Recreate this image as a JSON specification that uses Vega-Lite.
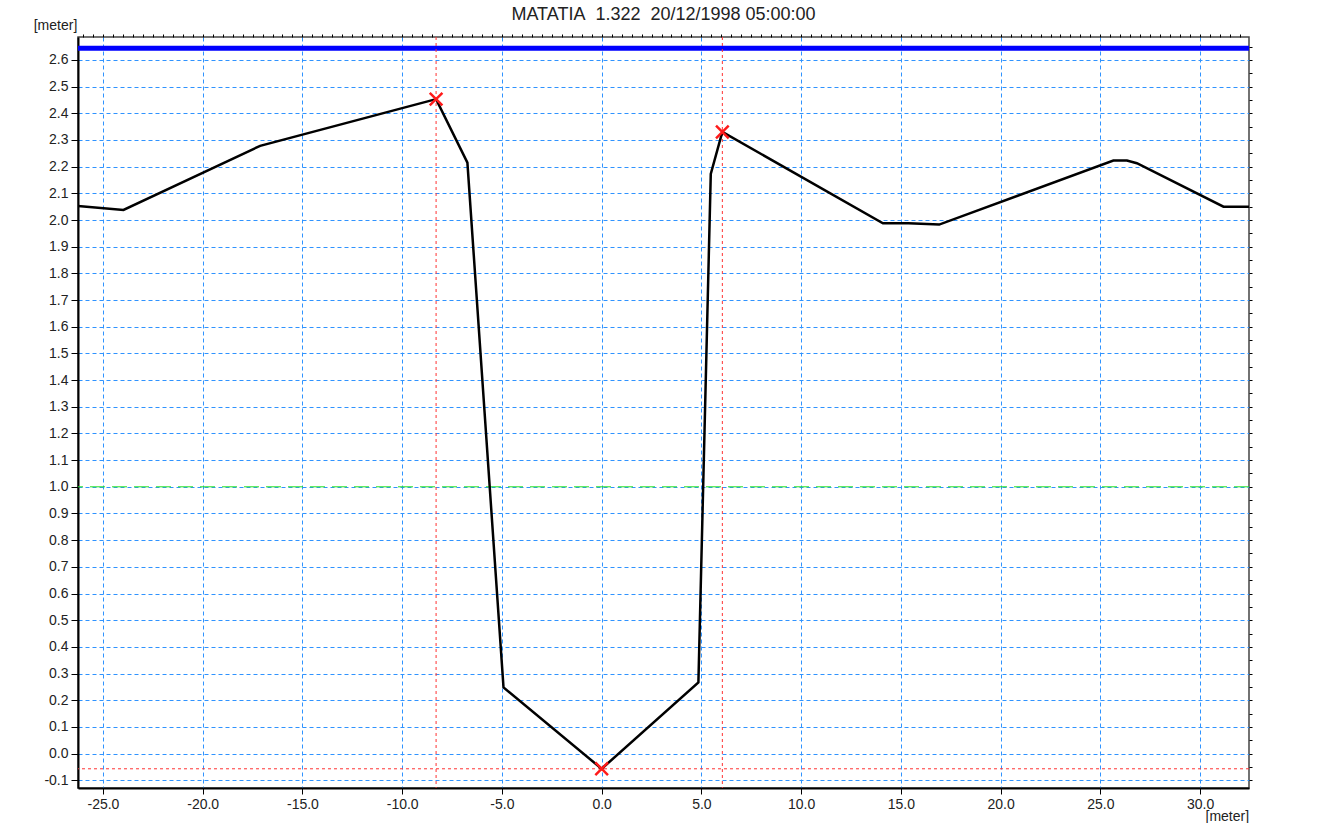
{
  "$schema": "https://vega.github.io/schema/vega-lite/v6.json",
  "width": 1171,
  "height": 751,
  "autosize": {"type": "none"},
  "padding": {"left": 78, "top": 37, "right": 69, "bottom": 35},
  "background": "white",
  "config": {
    "view": {"stroke": "#444", "strokeWidth": 1.5},
    "font": "Liberation Sans"
  },
  "title": {
    "text": "MATATIA\u00a0\u00a01.322\u00a0\u00a020/12/1998 05:00:00",
    "fontSize": 18,
    "font": "Liberation Sans",
    "fontWeight": "normal",
    "color": "#222",
    "anchor": "middle",
    "baseline": "bottom",
    "offset": 0,
    "dy": 24
  },
  "datasets": {
    "profile": [
      {"dist": -26.25, "elev": 2.053},
      {"dist": -23.97, "elev": 2.038},
      {"dist": -17.12, "elev": 2.278},
      {"dist": -8.3, "elev": 2.453},
      {"dist": -6.73, "elev": 2.215},
      {"dist": -4.92, "elev": 0.248},
      {"dist": 0.0, "elev": -0.057},
      {"dist": 4.85, "elev": 0.267},
      {"dist": 5.47, "elev": 2.173},
      {"dist": 6.05, "elev": 2.33},
      {"dist": 14.1, "elev": 1.988},
      {"dist": 15.38, "elev": 1.988},
      {"dist": 16.92, "elev": 1.983},
      {"dist": 25.65, "elev": 2.223},
      {"dist": 26.33, "elev": 2.223},
      {"dist": 26.83, "elev": 2.213},
      {"dist": 31.17, "elev": 2.05},
      {"dist": 32.45, "elev": 2.05}
    ],
    "markers": [
      {"dist": -8.3, "elev": 2.453},
      {"dist": 0.0, "elev": -0.057},
      {"dist": 6.05, "elev": 2.33}
    ]
  },
  "resolve": {"axis": {"x": "independent", "y": "independent"}},
  "layer": [
    {
      "data": {"name": "profile"},
      "mark": {"type": "line", "color": "black", "strokeWidth": 2.5, "clip": true, "opacity": 0},
      "encoding": {
        "x": {
          "field": "dist", "type": "quantitative",
          "scale": {"domain": [-26.25, 32.45], "nice": false, "zero": false},
          "axis": {
            "values": [-25, -20, -15, -10, -5, 0, 5, 10, 15, 20, 25, 30],
            "labelExpr": "replace(format(datum.value, '.1f'), '\u2212', '-')",
            "grid": true, "gridColor": "#2f93ff", "gridDash": [4, 3], "gridWidth": 1, "gridOpacity": 1,
            "domainColor": "black", "domainWidth": 2,
            "tickColor": "black", "tickSize": 6, "tickWidth": 1,
            "labelFontSize": 14, "labelFont": "Liberation Sans", "labelColor": "#222", "labelPadding": 3,
            "labelFlush": false, "labelOverlap": false,
            "title": "[meter]", "titleX": 1127, "titleY": 28, "titleAlign": "left", "titleBaseline": "middle",
            "titleFontSize": 14, "titleFontWeight": "normal", "titleFont": "Liberation Sans", "titleColor": "#222", "titleAngle": 0
          }
        },
        "y": {
          "field": "elev", "type": "quantitative",
          "scale": {"domain": [-0.129, 2.686], "nice": false, "zero": false},
          "axis": {
            "values": [-0.1, 0, 0.1, 0.2, 0.3, 0.4, 0.5, 0.6, 0.7, 0.8, 0.9, 1.0, 1.1, 1.2, 1.3, 1.4, 1.5, 1.6, 1.7, 1.8, 1.9, 2.0, 2.1, 2.2, 2.3, 2.4, 2.5, 2.6],
            "labelExpr": "replace(format(datum.value, '.1f'), '\u2212', '-')",
            "grid": true, "gridColor": "#2f93ff", "gridDash": [4, 3], "gridWidth": 1, "gridOpacity": 1,
            "domainColor": "black", "domainWidth": 2,
            "tickColor": "black", "tickSize": 7, "tickWidth": 1,
            "labelFontSize": 14, "labelFont": "Liberation Sans", "labelColor": "#222", "labelPadding": 3,
            "labelFlush": false, "labelOverlap": false,
            "title": "[meter]", "titleX": -23, "titleY": -12, "titleAlign": "center", "titleBaseline": "middle",
            "titleFontSize": 14, "titleFontWeight": "normal", "titleFont": "Liberation Sans", "titleColor": "#222", "titleAngle": 0
          }
        }
      }
    },
    {
      "data": {"values": [{"y": 2.644}]},
      "mark": {"type": "rule", "color": "#0000ff", "strokeWidth": 5},
      "encoding": {"y": {"field": "y", "type": "quantitative", "axis": null}}
    },
    {
      "data": {"values": [{"y": 1.0}]},
      "mark": {"type": "rule", "color": "#22e022", "strokeWidth": 1, "strokeDash": [15, 7]},
      "encoding": {"y": {"field": "y", "type": "quantitative", "axis": null}}
    },
    {
      "data": {"values": [{"y": -0.057}]},
      "mark": {"type": "rule", "color": "#ff3333", "strokeWidth": 1, "strokeDash": [3, 3]},
      "encoding": {"y": {"field": "y", "type": "quantitative", "axis": null}}
    },
    {
      "data": {"values": [{"x": -8.3}, {"x": 6.05}]},
      "mark": {"type": "rule", "color": "#ff3333", "strokeWidth": 1, "strokeDash": [3, 3]},
      "encoding": {"x": {"field": "x", "type": "quantitative", "axis": null}}
    },
    {
      "data": {"name": "profile"},
      "mark": {"type": "line", "color": "black", "strokeWidth": 2.5, "clip": true},
      "encoding": {
        "x": {"field": "dist", "type": "quantitative", "axis": null},
        "y": {"field": "elev", "type": "quantitative", "axis": null}
      }
    },
    {
      "data": {"name": "markers"},
      "mark": {"type": "point", "shape": "M-1,-1L1,1M-1,1L1,-1", "filled": false, "color": "#ff1a1a", "strokeWidth": 2.5, "size": 160, "opacity": 1},
      "encoding": {
        "x": {
          "field": "dist", "type": "quantitative",
          "axis": {
            "values": [-26, -25.5, -25, -24.5, -24, -23.5, -23, -22.5, -22, -21.5, -21, -20.5, -20, -19.5, -19, -18.5, -18, -17.5, -17, -16.5, -16, -15.5, -15, -14.5, -14, -13.5, -13, -12.5, -12, -11.5, -11, -10.5, -10, -9.5, -9, -8.5, -8, -7.5, -7, -6.5, -6, -5.5, -5, -4.5, -4, -3.5, -3, -2.5, -2, -1.5, -1, -0.5, 0, 0.5, 1, 1.5, 2, 2.5, 3, 3.5, 4, 4.5, 5, 5.5, 6, 6.5, 7, 7.5, 8, 8.5, 9, 9.5, 10, 10.5, 11, 11.5, 12, 12.5, 13, 13.5, 14, 14.5, 15, 15.5, 16, 16.5, 17, 17.5, 18, 18.5, 19, 19.5, 20, 20.5, 21, 21.5, 22, 22.5, 23, 23.5, 24, 24.5, 25, 25.5, 26, 26.5, 27, 27.5, 28, 28.5, 29, 29.5, 30, 30.5, 31, 31.5, 32],
            "labels": false, "grid": false, "domain": false, "title": null,
            "tickColor": "black", "tickSize": 3, "tickWidth": 1
          }
        },
        "y": {
          "field": "elev", "type": "quantitative",
          "axis": {
            "values": [-0.1, -0.05, 0, 0.05, 0.1, 0.15, 0.2, 0.25, 0.3, 0.35, 0.4, 0.45, 0.5, 0.55, 0.6, 0.65, 0.7, 0.75, 0.8, 0.85, 0.9, 0.95, 1.0, 1.05, 1.1, 1.15, 1.2, 1.25, 1.3, 1.35, 1.4, 1.45, 1.5, 1.55, 1.6, 1.65, 1.7, 1.75, 1.8, 1.85, 1.9, 1.95, 2.0, 2.05, 2.1, 2.15, 2.2, 2.25, 2.3, 2.35, 2.4, 2.45, 2.5, 2.55, 2.6, 2.65],
            "labels": false, "grid": false, "domain": false, "title": null,
            "tickColor": "black", "tickSize": 3, "tickWidth": 1
          }
        }
      }
    }
  ]
}
